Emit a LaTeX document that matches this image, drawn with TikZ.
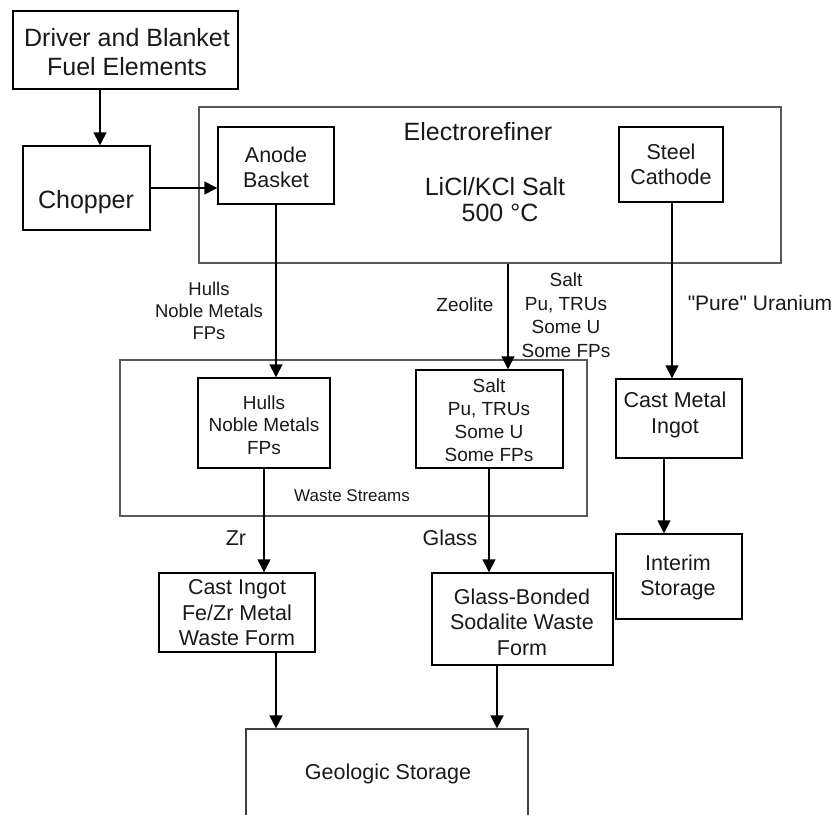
\documentclass[tikz,border=0pt]{standalone}
\usepackage{fontspec}
\setmainfont{Liberation Sans}[Ligatures=TeXOff]
\usetikzlibrary{arrows.meta}
\tikzset{
  box/.style={draw=black, line width=1.4pt, rectangle, inner sep=0pt},
  thickbox/.style={box, line width=2pt},
  outerbox/.style={draw=black!65, line width=1.3pt, rectangle, inner sep=0pt},
  txt/.style={inner sep=0pt, align=center, text=black!90},
  fa/.style={font=\fontsize{25}{29}\selectfont},
  fb/.style={font=\fontsize{21.5}{25}\selectfont},
  fc/.style={font=\fontsize{19}{23}\selectfont},
  arr/.style={draw=black, line width=1.4pt, -{Triangle[length=13pt,width=13pt]}},
}
\begin{document}
\begin{tikzpicture}[x=1pt,y=-1pt]
\useasboundingbox (0,0) rectangle (840,814);
\clip (0,0) rectangle (840,814);
% outer grouping boxes
\node[outerbox, minimum width=582pt, minimum height=156pt] (er) at (490,185) {};
\node[outerbox, minimum width=467pt, minimum height=156pt] (waste) at (353.5,438) {};
% boxes
\node[thickbox, minimum width=225pt, minimum height=78pt] (driver) at (125.5,50) {};
\node[box, minimum width=127pt, minimum height=84pt] (chopper) at (86.5,188) {};
\node[box, minimum width=116pt, minimum height=77pt] (anode) at (276,165.5) {};
\node[box, minimum width=104pt, minimum height=75pt] (cathode) at (671,164.5) {};
\node[box, minimum width=132pt, minimum height=90pt] (hulls) at (264,423) {};
\node[box, minimum width=147pt, minimum height=98pt] (salt) at (489.5,419) {};
\node[box, minimum width=126pt, minimum height=79pt] (cmi) at (679,418.5) {};
\node[box, minimum width=126pt, minimum height=85pt] (interim) at (679,576.5) {};
\node[box, minimum width=156pt, minimum height=79pt] (castingot) at (237,612.5) {};
\node[box, minimum width=181pt, minimum height=92pt] (glass) at (522.5,619) {};
\node[box, line width=1.2pt, draw=black!75, minimum width=282pt, minimum height=101pt] (geo) at (387,779.5) {};
% texts
\node[txt, fa] (tdriver) at (127,52) {Driver and Blanket\\Fuel Elements};
\node[txt, fa] (tchopper) at (86,202) {Chopper};
\node[txt, fa] (ter) at (478,132) {Electrorefiner};
\node[txt, fa, font=\fontsize{25}{26}\selectfont] (tsalt) at (495,200) {LiCl/KCl Salt\\\hspace*{10pt}500 °C};
\node[txt, fb] (tanode) at (276,167) {Anode\\Basket};
\node[txt, fb] (tcathode) at (671,164) {Steel\\Cathode};
\node[txt, fc, font=\fontsize{18.5}{22}\selectfont] (lhulls) at (209,311) {Hulls\\Noble Metals\\FPs};
\node[txt, fc] (lzeo) at (465,305) {Zeolite};
\node[txt, fc, font=\fontsize{19}{23.5}\selectfont] (lsalt) at (566,315) {Salt\\Pu, TRUs\\Some U\\Some FPs};
\node[txt, fb, font=\fontsize{21}{25}\selectfont] (lu) at (760,303) {"Pure" Uranium};
\node[txt, fc, font=\fontsize{19}{22.5}\selectfont] (thulls) at (264,425) {Hulls\\Noble Metals\\FPs};
\node[txt, fc] (tsaltbox) at (489,420) {Salt\\Pu, TRUs\\Some U\\Some FPs};
\node[txt, font=\fontsize{17}{20}\selectfont] (twaste) at (352,496) {Waste Streams};
\node[txt, fb] (lzr) at (236,538) {Zr};
\node[txt, fb] (lglass) at (450,538) {Glass};
\node[txt, fb, font=\fontsize{21.5}{26}\selectfont] (tcmi) at (675,415) {Cast Metal\\Ingot};
\node[txt, fb] (tinterim) at (678,577) {Interim\\Storage};
\node[txt, fb, font=\fontsize{21.5}{25.5}\selectfont] (tcastingot) at (237,613) {Cast Ingot\\Fe/Zr Metal\\Waste Form};
\node[txt, fb, font=\fontsize{21.5}{25.5}\selectfont] (tglass) at (522,622) {Glass-Bonded\\Sodalite Waste\\Form};
\node[txt, fb] (tgeo) at (388,774) {Geologic Storage};
% connectors
\draw[arr] (100,0 |- driver.south) -- (100,0 |- chopper.north);
\draw[arr] (chopper.east) -- (chopper.east -| anode.west);
\draw[arr] (anode.south) -- (anode.south |- hulls.north);
\draw[arr] (508,0 |- er.south) -- (508,0 |- salt.north);
\draw[arr] (672,0 |- cathode.south) -- (672,0 |- cmi.north);
\draw[arr] (664,0 |- cmi.south) -- (664,0 |- interim.north);
\draw[arr] (hulls.south) -- (hulls.south |- castingot.north);
\draw[arr] (489,0 |- salt.south) -- (489,0 |- glass.north);
\draw[arr] (276,0 |- castingot.south) -- (276,0 |- geo.north);
\draw[arr] (497,0 |- glass.south) -- (497,0 |- geo.north);
\end{tikzpicture}
\end{document}
